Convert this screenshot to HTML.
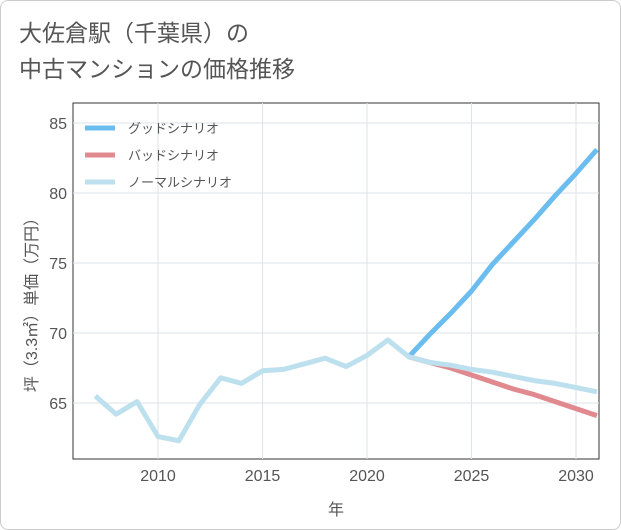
<!DOCTYPE html>
<html><head><meta charset="utf-8"><style>
body{margin:0;background:#fff;}
#wrap{position:relative;width:619px;height:528px;border:1px solid #ccc;border-radius:8px;overflow:hidden;font-family:"Liberation Sans","Noto Sans CJK JP",sans-serif;}
#title{position:absolute;left:18px;top:14px;font-size:23px;line-height:36px;color:#555;}
</style></head><body>
<div id="wrap">
<div id="title">大佐倉駅（千葉県）の<br>中古マンションの価格推移</div>
<svg id="chart" width="621" height="530" style="position:absolute;left:0;top:0"></svg>
</div>
<script>
const years=[2007,2008,2009,2010,2011,2012,2013,2014,2015,2016,2017,2018,2019,2020,2021,2022,2023,2024,2025,2026,2027,2028,2029,2030,2031];
const normalVals=[65.5,64.2,65.1,62.6,62.3,64.9,66.8,66.4,67.3,67.4,67.8,68.2,67.6,68.4,69.5,68.3,67.9,67.7,67.4,67.2,66.9,66.6,66.4,66.1,65.8];
const goodYears=[2022,2023,2024,2025,2026,2027,2028,2029,2030,2031];
const goodVals=[68.3,69.9,71.4,73.0,74.9,76.5,78.1,79.8,81.4,83.1];
const badVals=[68.3,67.9,67.5,67.0,66.5,66.0,65.6,65.1,64.6,64.1];
const xTicks=[2010,2015,2020,2025,2030];
const yTicks=[65,70,75,80,85];
const legendLabels=["グッドシナリオ","バッドシナリオ","ノーマルシナリオ"];
const NS="http://www.w3.org/2000/svg";
const svg=document.getElementById('chart');
const L=72,R=598,T=102,B=458;
const x=v=>157+(v-2010)*(575-157)/20;
const y=v=>402-(v-65)*14;
function mk(t,a,p){const e=document.createElementNS(NS,t);for(const k in a)e.setAttribute(k,a[k]);(p||svg).appendChild(e);return e;}
const frame=mk('rect',{x:L,y:T,width:R-L,height:B-T,fill:'none',stroke:'#333','stroke-width':1});


xTicks.forEach(v=>{
 const g=mk('line',{x1:x(v),x2:x(v),y1:T,y2:B,stroke:'#dde3ea'});
 
 
 const t=mk('text',{x:x(v),y:B+22,'text-anchor':'middle','font-size':16,fill:'#555'});
 t.textContent=v;
 
 
});
yTicks.forEach(v=>{
 const g=mk('line',{x1:L,x2:R,y1:y(v),y2:y(v),stroke:'#dde3ea'});
 
 
 const t=mk('text',{x:L-6,y:y(v)+6,'text-anchor':'end','font-size':16,fill:'#555'});
 t.textContent=v;
 
 
});
const xt=mk('text',{x:335,y:514,'text-anchor':'middle','font-size':16,fill:'#555'});
xt.textContent='年';


const yt=mk('text',{x:0,y:0,'text-anchor':'middle','font-size':16,fill:'#555',transform:'translate(36,300) rotate(-90)'});
yt.textContent='坪（3.3㎡）単価（万円）';


const clip=mk('clipPath',{id:'c'});mk('rect',{x:L,y:T,width:R-L,height:B-T},clip);
function line(xs,vs,col,name){
 const p=mk('polyline',{points:xs.map((v,i)=>x(v)+','+y(vs[i])).join(' '),fill:'none',stroke:col,'stroke-width':5,'stroke-linejoin':'round','clip-path':'url(#c)'});
 
 
}
line(goodYears,goodVals,'#6bbdf0','good-scenario-line');
line(goodYears,badVals,'#e08a90','bad-scenario-line');
line(years,normalVals,'#bde0ee','normal-scenario-line');
const cols=['#6bbdf0','#e08a90','#bde0ee'];
legendLabels.forEach((s,i)=>{
 const yy=127+i*27;
 const l=mk('line',{x1:84,x2:114,y1:yy,y2:yy,stroke:cols[i],'stroke-width':5});
 
 
 const t=mk('text',{x:127,y:yy+5,'font-size':13,fill:'#555'});
 t.textContent=s;
 
 
});
</script>
</body></html>
